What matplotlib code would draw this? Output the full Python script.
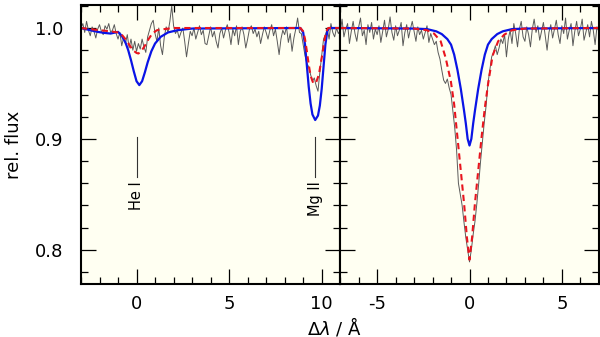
import numpy as np
import matplotlib.pyplot as plt
from matplotlib.ticker import MultipleLocator

plt.rcParams["axes.unicode_minus"] = False

# observed spectrum (grey), sampled every 0.1 A
obs_left_x = np.round(np.arange(-3.0, 11.01, 0.1), 2)
obs_left = [
    1.000, 1.004, 0.996, 1.006, 0.998, 0.993, 1.001, 0.997, 0.991, 0.999,
    1.003, 0.997, 0.994, 1.002, 0.999, 1.004, 0.996, 0.998, 1.003, 0.995,
    0.990, 0.996, 0.984, 0.991, 0.986, 0.994, 0.982, 0.990, 0.980, 0.988,
    0.979, 0.986, 0.981, 0.990, 0.983, 0.978, 0.992, 0.998, 1.004, 1.007,
    0.995, 0.988, 1.000, 0.984, 0.976, 0.992, 1.001, 0.996, 1.006, 1.020,
    1.002, 0.995, 0.998, 0.991, 0.996, 1.000, 0.988, 0.974, 0.986, 0.997,
    0.993, 1.000, 0.990, 0.996, 1.002, 0.994, 0.998, 0.986, 0.985, 0.993,
    1.001, 0.992, 0.997, 0.988, 0.982, 0.995, 1.000, 0.991, 0.998, 1.003,
    0.996, 0.985, 0.999, 0.993, 1.002, 0.985, 0.997, 1.001, 0.994, 0.982,
    0.990, 0.999, 1.002, 0.995, 0.999, 0.992, 0.997, 0.986, 0.994, 1.001,
    0.996, 0.990, 0.998, 1.003, 0.993, 0.999, 0.988, 0.976, 0.990, 0.998,
    0.994, 1.001, 0.987, 0.995, 0.979, 0.991, 0.999, 1.009, 0.996, 0.995,
    0.985, 0.975, 0.968, 0.965, 0.958, 0.952, 0.955, 0.948, 0.943, 0.960,
    0.975, 0.990, 0.994, 0.999, 0.990, 1.004, 0.996, 0.992, 1.000, 0.995,
    0.998,
]
obs_right_x = np.round(np.arange(-7.0, 7.01, 0.1), 2)
obs_right = [
    0.996, 1.008, 0.992, 0.999, 1.004, 0.986, 0.997, 1.006, 0.995, 0.988,
    1.001, 1.009, 0.993, 0.998, 0.985, 1.003, 0.996, 1.005, 0.990, 0.999,
    0.994, 1.002, 0.987, 0.997, 1.007, 0.992, 0.999, 1.010, 0.996, 0.989,
    1.002, 0.993, 0.998, 1.005, 0.984, 0.996, 1.003, 0.991, 0.999, 1.006,
    0.997, 0.988, 1.001, 0.994, 0.998, 0.990, 0.996, 1.002, 0.987, 0.995,
    0.990, 0.985, 0.988, 0.978, 0.972, 0.962, 0.953, 0.950, 0.954, 0.946,
    0.940, 0.925, 0.910, 0.890, 0.860, 0.850, 0.840, 0.825, 0.811, 0.800,
    0.789, 0.800, 0.814, 0.826, 0.842, 0.860, 0.880, 0.898, 0.915, 0.930,
    0.950, 0.962, 0.974, 0.978, 0.984, 0.976, 0.982, 0.990, 0.986, 0.994,
    0.974, 0.990, 0.998, 0.986, 1.004, 0.995, 0.983, 0.999, 1.006, 0.992,
    0.988, 1.001, 0.994, 0.983, 0.999, 1.008, 0.996, 1.002, 0.989, 0.997,
    1.005, 0.993, 0.980, 0.996, 1.003, 0.991, 0.999, 1.007, 0.994, 0.986,
    1.002, 0.995, 1.009, 0.990, 0.998, 1.004, 0.984, 0.997, 1.006, 0.993,
    0.999, 1.008, 0.989, 0.996, 1.003, 0.992, 1.006, 0.998, 0.985, 1.001,
    0.997,
]

# model 1 (blue, solid)
blue_left_x = [-3.0, -2.5, -2.1, -1.7, -1.4, -1.0, -0.8, -0.6, -0.45, -0.3, -0.15,
               0.0, 0.15, 0.3, 0.45, 0.6, 0.8, 1.0, 1.3, 1.7, 2.2, 3.0,
               8.85, 9.0, 9.1, 9.2, 9.3, 9.4, 9.5, 9.65, 9.8, 9.9, 10.0, 10.1,
               10.2, 10.3, 10.4, 11.0]
blue_left = [1.000, 0.998, 0.9965, 0.9955, 0.995, 0.9965, 0.993, 0.987, 0.980, 0.971, 0.961,
             0.952, 0.9485, 0.952, 0.960, 0.969, 0.979, 0.986, 0.992, 0.996, 0.998, 0.9995,
             1.000, 0.996, 0.985, 0.966, 0.947, 0.932, 0.922, 0.917, 0.921, 0.930, 0.945, 0.965,
             0.985, 0.997, 1.000, 1.000]
blue_right_x = [-7.0, -3.0, -2.3, -1.8, -1.5, -1.2, -1.0, -0.83, -0.65, -0.47, -0.3, -0.2,
                -0.1, 0.0, 0.1, 0.2, 0.3, 0.47, 0.65, 0.83, 1.0, 1.2, 1.5, 1.8, 2.3, 3.0, 7.0]
blue_right = [1.000, 0.9995, 0.999, 0.997, 0.9945, 0.990, 0.985, 0.976, 0.962, 0.945, 0.926, 0.914,
              0.900, 0.894, 0.900, 0.914, 0.926, 0.945, 0.962, 0.976, 0.985, 0.990, 0.9945, 0.997,
              0.999, 0.9995, 1.000]

# model 2 (red, dashed)
red_left_x = [-3.0, -2.0, -1.4, -1.0, -0.8, -0.6, -0.4, -0.2, 0.0, 0.1, 0.25, 0.45, 0.65,
              0.85, 1.1, 1.5, 2.0, 3.0, 8.85, 9.0, 9.1, 9.2, 9.3, 9.4, 9.55, 9.7, 9.85,
              9.95, 10.05, 10.15, 10.25, 10.35, 11.0]
red_left = [1.000, 0.998, 0.997, 0.996, 0.994, 0.990, 0.985, 0.980, 0.9775, 0.977, 0.979,
            0.984, 0.990, 0.995, 0.998, 0.999, 1.000, 1.000, 1.000, 0.997, 0.990, 0.979,
            0.967, 0.957, 0.950, 0.951, 0.958, 0.968, 0.978, 0.989, 0.997, 1.000, 1.000]
red_right_x = [-7.0, -3.0, -2.3, -1.92, -1.56, -1.29, -1.01, -0.83, -0.65, -0.47, -0.29,
               -0.14, 0.0, 0.14, 0.29, 0.47, 0.65, 0.83, 1.01, 1.25, 1.55, 1.88, 2.3, 3.0, 7.0]
red_right = [1.000, 0.9995, 0.998, 0.995, 0.988, 0.973, 0.952, 0.931, 0.901, 0.871, 0.841,
             0.811, 0.791, 0.811, 0.841, 0.871, 0.901, 0.928, 0.950, 0.975, 0.988, 0.994,
             0.998, 0.9995, 1.000]

# line identifications
ids = ["He I", "Mg II"]
id_pos = [0.0, 9.65]

fig = plt.figure(figsize=(6, 3.37), dpi=100)
ax1 = fig.add_axes([0.135, 0.157, 0.432, 0.828])
ax2 = fig.add_axes([0.567, 0.157, 0.431, 0.828])

face = "#fffff2"
for ax, xo, yo, xb, yb, xr, yr, lim in [
        (ax1, obs_left_x, obs_left, blue_left_x, blue_left, red_left_x, red_left, (-3, 11)),
        (ax2, obs_right_x, obs_right, blue_right_x, blue_right, red_right_x, red_right, (-7, 7))]:
    ax.set_facecolor(face)
    ax.plot(xo, yo, color="#5a5a5a", lw=0.7)
    ax.plot(xb, yb, color="#0a14e6", lw=1.6)
    ax.plot(xr, yr, color="#e8141e", lw=1.5, ls=(0, (3, 2)))
    ax.set_xlim(*lim)
    ax.set_ylim(0.769, 1.0207)
    ax.xaxis.set_major_locator(MultipleLocator(5))
    ax.xaxis.set_minor_locator(MultipleLocator(1))
    ax.yaxis.set_major_locator(MultipleLocator(0.1))
    ax.yaxis.set_minor_locator(MultipleLocator(0.02))
    ax.tick_params(which="both", direction="in", top=True, right=True, width=0.9)
    ax.tick_params(which="major", length=11, labelsize=13, pad=8)
    ax.tick_params(which="minor", length=5)
    ax.tick_params(axis="y", pad=13)
    for s in ax.spines.values():
        s.set_linewidth(1.5)

ax1.set_yticks([0.8, 0.9, 1.0])
ax1.set_yticklabels(["0.8", "0.9", "1.0"])
ax1.set_ylabel("rel. flux", fontsize=13, labelpad=8)
ax2.set_yticklabels([])

for name, xp in zip(ids, id_pos):
    ax1.plot([xp, xp], [0.902, 0.866], color="#333333", lw=0.8)
    ax1.text(xp, 0.862, name, rotation=90, ha="center", va="top", fontsize=10.5)

fig.text(0.558, 0.008, r"$\mathit{\Delta\lambda}$ / Å", fontsize=13, ha="center")

plt.savefig("out.png")
